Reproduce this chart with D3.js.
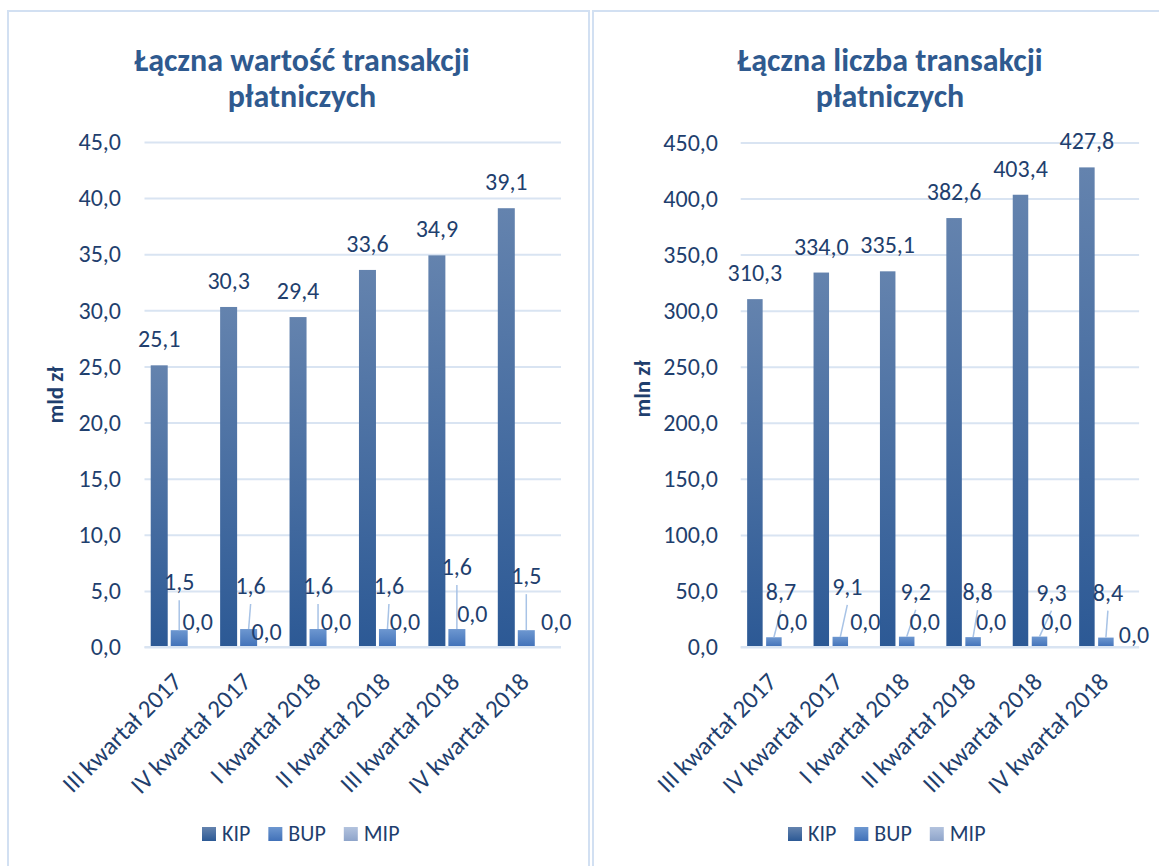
<!DOCTYPE html>
<html><head><meta charset="utf-8">
<script src="https://cdn.jsdelivr.net/npm/d3@7"></script>
<style>
html,body{margin:0;padding:0;background:#fff;}
svg{display:block;font-family:Carlito, Lato, "Open Sans", sans-serif;}
</style></head><body>
<svg id="chart" width="1159" height="866"></svg>
<script>
// ---------- DATA ----------
const categories = ["III kwartał 2017","IV kwartał 2017","I kwartał 2018","II kwartał 2018","III kwartał 2018","IV kwartał 2018"];
const seriesNames = ["KIP","BUP","MIP"];
const valueKIP = [25.1,30.3,29.4,33.6,34.9,39.1];
const valueBUP = [1.5,1.6,1.6,1.6,1.6,1.5];
const valueMIP = [0.0,0.0,0.0,0.0,0.0,0.0];
const countKIP = [310.3,334.0,335.1,382.6,403.4,427.8];
const countBUP = [8.7,9.1,9.2,8.8,9.3,8.4];
const countMIP = [0.0,0.0,0.0,0.0,0.0,0.0];
const valueTicks = [0,5,10,15,20,25,30,35,40,45];
const countTicks = [0,50,100,150,200,250,300,350,400,450];
const valueTitle = ["Łączna wartość transakcji","płatniczych"];
const countTitle = ["Łączna liczba transakcji","płatniczych"];
const valueUnit = "mld zł";
const countUnit = "mln zł";

// ---------- LAYOUT (label nudges, px) ----------
const leftBupNudge  = [[0,-40],[2,-35],[0,-35],[1.5,-35],[0,-54],[0,-46]];
const leftMipNudge  = [[-1.5,-17],[-2,-7],[-2,-17],[-2.5,-17],[-4.5,-25],[10,-17]];
const rightBupNudge = [[7,-37],[7,-42],[9,-37],[4.5,-37],[12,-36],[2,-37]];
const rightMipNudge = [[-1,-17],[6,-17],[-1,-17],[-1,-17],[-2,-17],[9,-4]];

const TEXT = "#1f3f6e";
const TITLE = "#2f5a8f";
const GRID = "#d9e4f2";
const BORDER = "#d2e0f2";
const FS = 24;

const locale = d3.formatLocale({decimal:",", thousands:" ", grouping:[3], currency:["","zł"]});
const fmt = locale.format(".1f");

const svg = d3.select("#chart");
const defs = svg.append("defs");
const gradStops = {
  KIP: ["#6483ae", "#2c5995"],
  BUP: ["#6d97d0", "#4171b8"],
  MIP: ["#b3c3de", "#8ea4ca"]
};
seriesNames.forEach(s => {
  const lg = defs.append("linearGradient").attr("id","grad-"+s)
    .attr("x1",0).attr("y1",0).attr("x2",0).attr("y2",1);
  lg.append("stop").attr("offset","0%").attr("stop-color",gradStops[s][0]);
  lg.append("stop").attr("offset","100%").attr("stop-color",gradStops[s][1]);
});

function drawPanel(cfg) {
  const g = svg.append("g");
  g.append("rect").attr("x",cfg.panel[0]).attr("y",cfg.panel[1])
    .attr("width",cfg.panel[2]).attr("height",cfg.panel[3])
    .attr("fill","#fff").attr("stroke",BORDER).attr("stroke-width",2);

  const t = g.append("text").attr("text-anchor","middle").attr("fill",TITLE)
    .attr("font-weight","bold").attr("font-size",32);
  cfg.title.forEach((line,i) => t.append("tspan").attr("x",cfg.titleCx).attr("y",cfg.titleY + i*36).text(line));

  const x = d3.scaleBand().domain(categories).range([cfg.x0,cfg.x1])
    .paddingInner(cfg.pad).paddingOuter(cfg.pad/2);
  const xs = d3.scaleBand().domain(seriesNames).range([0,x.bandwidth()]).paddingInner(cfg.subPad);
  const y = d3.scaleLinear().domain([0,cfg.yMax]).range([cfg.y0,cfg.yTop]);

  const ax = g.append("g").attr("transform",`translate(${cfg.x0},0)`)
    .call(d3.axisLeft(y).tickValues(cfg.ticks).tickFormat(fmt)
      .tickSize(-(cfg.x1-cfg.x0)).tickPadding(cfg.tickPad));
  ax.attr("font-family",null).attr("font-size",null);
  ax.select(".domain").remove();
  ax.selectAll(".tick line").attr("stroke",GRID).attr("stroke-width",2);
  ax.selectAll(".tick text").attr("fill",TEXT).attr("font-size",FS);

  const rows = categories.map((c,i) => ({cat:c, i, vals: seriesNames.map((s,j)=>({s, v: cfg.series[j][i]}))}));
  const grp = g.selectAll(".grp").data(rows).join("g").attr("class","grp")
    .attr("transform", d => `translate(${x(d.cat)},0)`);
  grp.selectAll("rect").data(d => d.vals).join("rect")
    .attr("x", d => xs(d.s)).attr("width", xs.bandwidth())
    .attr("y", d => y(d.v)).attr("height", d => y(0)-y(d.v))
    .attr("fill", d => `url(#grad-${d.s})`);

  // KIP labels
  g.selectAll(".lk").data(rows).join("text").attr("class","lk")
    .attr("x", d => x(d.cat)+xs("KIP")+xs.bandwidth()/2)
    .attr("y", d => y(cfg.series[0][d.i]) - 18)
    .attr("text-anchor","middle").attr("fill",TEXT).attr("font-size",FS)
    .text(d => fmt(cfg.series[0][d.i]));

  // BUP labels with leaders, MIP labels
  rows.forEach(d => {
    const bx = x(d.cat)+xs("BUP")+xs.bandwidth()/2;
    const by = y(cfg.series[1][d.i]);
    const [dx,dy] = cfg.bupNudge[d.i];
    g.append("line").attr("x1",bx+dx).attr("y1",by+dy+10).attr("x2",bx).attr("y2",by)
      .attr("stroke","#a8c3e6").attr("stroke-width",1.5);
    g.append("text").attr("x",bx+dx).attr("y",by+dy).attr("text-anchor","middle")
      .attr("fill",TEXT).attr("font-size",FS).text(fmt(cfg.series[1][d.i]));
    const mx = x(d.cat)+xs("MIP")+xs.bandwidth()/2;
    const my = y(cfg.series[2][d.i]);
    const [mdx,mdy] = cfg.mipNudge[d.i];
    g.append("text").attr("x",mx+mdx).attr("y",my+mdy).attr("text-anchor","middle")
      .attr("fill",TEXT).attr("font-size",FS).text(fmt(cfg.series[2][d.i]));
  });

  // axis line
  g.append("line").attr("x1",cfg.x0).attr("x2",cfg.x1).attr("y1",y(0)).attr("y2",y(0))
    .attr("stroke",GRID).attr("stroke-width",2);

  // category labels
  g.selectAll(".cl").data(categories).join("text").attr("class","cl")
    .attr("transform", c => `translate(${x(c)+x.bandwidth()/2-2},${cfg.y0+30}) rotate(-45)`)
    .attr("text-anchor","end").attr("dy","0.35em")
    .attr("fill",TEXT).attr("font-size",25).text(c => c);

  // unit
  g.append("text").attr("transform",`translate(${cfg.unitX},${cfg.unitY}) rotate(-90)`)
    .attr("text-anchor","middle").attr("font-weight","bold").attr("font-size",23)
    .attr("fill",TEXT).text(cfg.unit);

  // legend
  const lg = g.append("g").attr("transform",`translate(${cfg.legendX},${cfg.legendY})`);
  let cx = 0;
  seriesNames.forEach(s => {
    lg.append("rect").attr("x",cx).attr("y",-14).attr("width",14).attr("height",14)
      .attr("fill",`url(#grad-${s})`);
    const tx = lg.append("text").attr("x",cx+20).attr("y",0).attr("fill",TEXT)
      .attr("font-size",22).text(s);
    cx += 20 + tx.node().getComputedTextLength() + 18;
  });
}

drawPanel({
  panel:[8,11,581,880], title:valueTitle, titleCx:302, titleY:71,
  x0:144.5, x1:561, y0:647, yTop:142, yMax:45, ticks:valueTicks,
  pad:0.179, subPad:0.15, tickPad:23.5,
  series:[valueKIP,valueBUP,valueMIP], bupNudge:leftBupNudge, mipNudge:leftMipNudge,
  unit:valueUnit, unitX:63, unitY:395, legendX:202, legendY:841
});
drawPanel({
  panel:[593,11,620,880], title:countTitle, titleCx:890, titleY:71,
  x0:740.7, x1:1139.1, y0:647, yTop:142.5, yMax:450, ticks:countTicks,
  pad:0.194, subPad:0.184, tickPad:22.7,
  series:[countKIP,countBUP,countMIP], bupNudge:rightBupNudge, mipNudge:rightMipNudge,
  unit:countUnit, unitX:650, unitY:389, legendX:788, legendY:841
});
</script>
</body></html>
